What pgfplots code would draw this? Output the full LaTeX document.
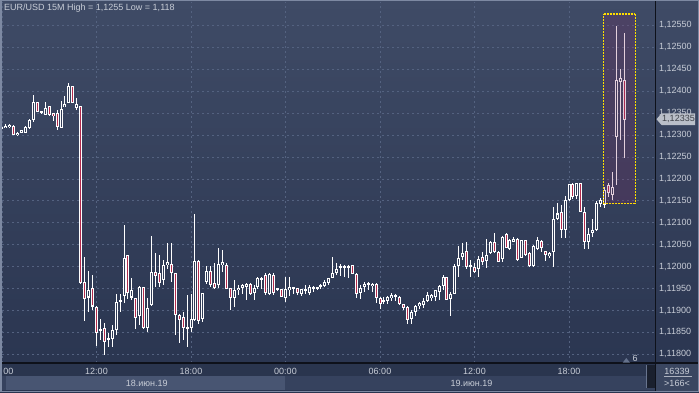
\documentclass[border=0pt]{standalone}
\usepackage{pgfplots}
\pgfplotsset{compat=1.18}
\usepackage{pgfplotstable}
\usepackage{fontspec}
\setmainfont{Liberation Sans}
\definecolor{bgtop}{RGB}{63,75,102}
\definecolor{bgbot}{RGB}{41,52,79}
\definecolor{gridc}{RGB}{84,98,128}
\definecolor{txt}{RGB}{200,205,215}
\definecolor{downc}{RGB}{178,42,76}
\definecolor{upin}{RGB}{50,61,88}
\definecolor{hlc}{RGB}{130,40,100}
\definecolor{hly}{RGB}{255,222,0}
\definecolor{stripa}{RGB}{42,53,78}
\definecolor{stripb}{RGB}{72,85,114}
\definecolor{stripc}{RGB}{54,66,94}
\definecolor{framec}{RGB}{125,137,162}
\definecolor{blk}{RGB}{14,17,26}
\definecolor{boxc}{RGB}{58,70,96}
\definecolor{markc}{RGB}{186,191,201}

\pgfplotstableread{
i o h l c
0 1.12316 1.12323 1.12313 1.12320
1 1.12317 1.12324 1.12316 1.12322
2 1.12319 1.12325 1.12317 1.12324
3 1.12321 1.12322 1.12300 1.12301
4 1.12300 1.12307 1.12299 1.12306
5 1.12306 1.12313 1.12305 1.12311
6 1.12306 1.12321 1.12305 1.12319
7 1.12317 1.12338 1.12313 1.12334
8 1.12336 1.12391 1.12331 1.12376
9 1.12376 1.12377 1.12354 1.12355
10 1.12350 1.12356 1.12349 1.12354
11 1.12346 1.12376 1.12345 1.12363
12 1.12366 1.12368 1.12344 1.12345
13 1.12350 1.12351 1.12334 1.12344
14 1.12350 1.12357 1.12312 1.12319
15 1.12318 1.12378 1.12316 1.12361
16 1.12365 1.12389 1.12364 1.12370
17 1.12373 1.12418 1.12372 1.12412
18 1.12412 1.12413 1.12373 1.12374
19 1.12363 1.12385 1.12357 1.12370
20 1.12366 1.12368 1.11962 1.11964
21 1.11966 1.12023 1.11878 1.11926
22 1.11930 1.11991 1.11897 1.11947
23 1.11951 1.11981 1.11901 1.11909
24 1.11910 1.11911 1.11821 1.11850
25 1.11854 1.11880 1.11833 1.11857
26 1.11860 1.11872 1.11800 1.11829
27 1.11836 1.11849 1.11817 1.11839
28 1.11835 1.11867 1.11817 1.11856
29 1.11856 1.11939 1.11844 1.11920
30 1.11922 1.11939 1.11897 1.11923
31 1.11935 1.12095 1.11917 1.12021
32 1.12027 1.12028 1.11928 1.11939
33 1.11930 1.11976 1.11924 1.11947
34 1.11930 1.11931 1.11860 1.11885
35 1.11888 1.11956 1.11867 1.11954
36 1.11954 1.11955 1.11859 1.11860
37 1.11860 1.11928 1.11852 1.11905
38 1.11913 1.12070 1.11910 1.11990
39 1.11990 1.12031 1.11954 1.11981
40 1.11985 1.12027 1.11954 1.11964
41 1.11971 1.12015 1.11958 1.12006
42 1.12005 1.12055 1.11996 1.12010
43 1.12005 1.12055 1.11966 1.11985
44 1.11985 1.11986 1.11844 1.11890
45 1.11890 1.11891 1.11825 1.11880
46 1.11886 1.11897 1.11834 1.11860
47 1.11860 1.11935 1.11818 1.11861
48 1.11860 1.11939 1.11852 1.11880
49 1.11880 1.12120 1.11878 1.12014
50 1.12014 1.12015 1.11871 1.11877
51 1.11880 1.11940 1.11875 1.11939
52 1.11964 1.12002 1.11962 1.11990
53 1.11990 1.12002 1.11954 1.11960
54 1.11962 1.12008 1.11949 1.11952
55 1.11960 1.12042 1.11951 1.12008
56 1.12005 1.12040 1.11989 1.12010
57 1.12005 1.12009 1.11949 1.11951
58 1.11951 1.11952 1.11901 1.11929
59 1.11929 1.11970 1.11909 1.11947
60 1.11947 1.11958 1.11935 1.11952
61 1.11952 1.11961 1.11939 1.11960
62 1.11954 1.11962 1.11925 1.11960
63 1.11960 1.11962 1.11935 1.11939
64 1.11939 1.11958 1.11924 1.11951
65 1.11954 1.11977 1.11949 1.11975
66 1.11971 1.11977 1.11949 1.11975
67 1.11981 1.11985 1.11935 1.11939
68 1.11939 1.11986 1.11935 1.11983
69 1.11981 1.11985 1.11935 1.11939
70 1.11949 1.11951 1.11945 1.11950
71 1.11949 1.11950 1.11931 1.11932
72 1.11929 1.11977 1.11920 1.11949
73 1.11949 1.11977 1.11935 1.11954
74 1.11951 1.11956 1.11939 1.11954
75 1.11951 1.11952 1.11935 1.11939
76 1.11939 1.11951 1.11935 1.11949
77 1.11945 1.11958 1.11939 1.11949
78 1.11941 1.11958 1.11935 1.11954
79 1.11951 1.11958 1.11943 1.11954
80 1.11951 1.11956 1.11947 1.11954
81 1.11954 1.11962 1.11951 1.11958
82 1.11958 1.11970 1.11954 1.11967
83 1.11964 1.11976 1.11960 1.11975
84 1.11975 1.12023 1.11974 1.11986
85 1.11986 1.12009 1.11981 1.11996
86 1.11996 1.12008 1.11981 1.12000
87 1.11996 1.12006 1.11977 1.12000
88 1.11999 1.12004 1.11975 1.12001
89 1.12004 1.12005 1.11983 1.11985
90 1.11985 1.11986 1.11928 1.11939
91 1.11939 1.11958 1.11928 1.11951
92 1.11954 1.11966 1.11943 1.11960
93 1.11958 1.11966 1.11947 1.11962
94 1.11956 1.11964 1.11943 1.11961
95 1.11962 1.11963 1.11917 1.11930
96 1.11930 1.11932 1.11905 1.11915
97 1.11920 1.11932 1.11915 1.11924
98 1.11922 1.11933 1.11915 1.11932
99 1.11928 1.11939 1.11920 1.11935
100 1.11932 1.11939 1.11922 1.11935
101 1.11932 1.11933 1.11914 1.11915
102 1.11915 1.11916 1.11901 1.11905
103 1.11910 1.11911 1.11871 1.11880
104 1.11880 1.11901 1.11871 1.11897
105 1.11897 1.11915 1.11888 1.11910
106 1.11910 1.11920 1.11903 1.11917
107 1.11913 1.11928 1.11907 1.11922
108 1.11922 1.11943 1.11920 1.11935
109 1.11928 1.11939 1.11922 1.11935
110 1.11932 1.11949 1.11924 1.11947
111 1.11943 1.11958 1.11924 1.11956
112 1.11956 1.11981 1.11947 1.11977
113 1.11977 1.11978 1.11924 1.11926
114 1.11928 1.11943 1.11888 1.11939
115 1.11939 1.12008 1.11938 1.12002
116 1.12002 1.12049 1.11977 1.12021
117 1.12023 1.12055 1.12017 1.12032
118 1.12036 1.12057 1.11996 1.12000
119 1.12000 1.12015 1.11976 1.12004
120 1.12000 1.12008 1.11985 1.11989
121 1.11996 1.12023 1.11976 1.12017
122 1.12023 1.12034 1.12004 1.12011
123 1.12014 1.12065 1.11997 1.12027
124 1.12031 1.12059 1.12030 1.12057
125 1.12057 1.12076 1.12031 1.12034
126 1.12034 1.12036 1.12011 1.12013
127 1.12019 1.12072 1.12011 1.12068
128 1.12076 1.12077 1.12043 1.12044
129 1.12042 1.12065 1.12040 1.12062
130 1.12059 1.12068 1.12057 1.12065
131 1.12065 1.12066 1.12013 1.12015
132 1.12021 1.12063 1.12020 1.12061
133 1.12061 1.12062 1.12024 1.12027
134 1.12032 1.12034 1.11999 1.12002
135 1.12002 1.12049 1.11999 1.12046
136 1.12042 1.12068 1.12038 1.12062
137 1.12059 1.12061 1.12034 1.12042
138 1.12036 1.12038 1.12015 1.12027
139 1.12024 1.12034 1.12020 1.12032
140 1.12034 1.12137 1.12000 1.12110
141 1.12110 1.12145 1.12106 1.12122
142 1.12125 1.12141 1.12065 1.12084
143 1.12084 1.12161 1.12065 1.12152
144 1.12152 1.12190 1.12150 1.12189
145 1.12189 1.12190 1.12154 1.12160
146 1.12160 1.12191 1.12154 1.12190
147 1.12190 1.12191 1.12124 1.12125
148 1.12125 1.12137 1.12040 1.12057
149 1.12057 1.12089 1.12040 1.12076
150 1.12076 1.12110 1.12068 1.12085
151 1.12084 1.12150 1.12083 1.12145
152 1.12143 1.12156 1.12137 1.12152
153 1.12141 1.12182 1.12135 1.12176
154 1.12186 1.12192 1.12160 1.12167
155 1.12163 1.12217 1.12152 1.12181
156 1.12296 1.12550 1.12186 1.12426
157 1.12422 1.12450 1.12289 1.12430
158 1.12426 1.12532 1.12249 1.12335
}\candles

\begin{document}
\begin{tikzpicture}[x=1pt,y=1pt]
\useasboundingbox (0,0) rectangle (699,392);
\shade[top color=bgtop, bottom color=bgbot] (0,0) rectangle (699,392);
% bottom strips
\fill[stripa] (0,16) rectangle (656,29);
\fill[stripc] (0,2) rectangle (656,16);
\fill[stripb] (6,2) rectangle (285,16);
\fill[blk!70!stripc] (645.7,4) rectangle (655,27);
\draw[framec!70!stripc, line width=0.6pt] (646,4) -- (646,27);
% right bottom box
\fill[boxc] (656,0) rectangle (699,29);
\draw[txt!80!boxc, line width=0.6pt] (664,15.3) -- (692,15.3);
\node[font=\fontsize{9}{10}\selectfont, text=txt, inner sep=0pt] at (677,21) {16339};
\node[font=\fontsize{9}{10}\selectfont, text=txt, inner sep=0pt] at (677,9) {>166<};
% dates
\node[font=\fontsize{9}{10}\selectfont, text=txt, inner sep=0pt] at (146.8,9) {18.июн.19};
\node[font=\fontsize{9}{10}\selectfont, text=txt, inner sep=0pt] at (471.5,9) {19.июн.19};

\begin{axis}[at={(2pt,29pt)}, anchor=south west, scale only axis,
  width=653.7pt, height=361pt,
  xmin=0, xmax=166.02, ymin=1.117802, ymax=1.126031,
  axis line style={draw=none}, major tick length=0pt,
  xtick={0,24,48,72,96,120,144},
  xticklabels={\phantom{06:}00,12:00,18:00,00:00,06:00,12:00,18:00},
  ytick={1.118,1.1185,1.119,1.1195,1.12,1.1205,1.121,1.1215,1.122,1.1225,1.123,1.1235,1.124,1.1245,1.125,1.1255},
  yticklabels={{1,11800},{1,11850},{1,11900},{1,11950},{1,12000},{1,12050},{1,12100},{1,12150},{1,12200},{1,12250},{1,12300},{1,12350},{1,12400},{1,12450},{1,12500},{1,12550}},
  yticklabel pos=right,
  grid=major,
  major grid style={gridc, line width=0.6pt, dash pattern=on 2pt off 3pt},
  tick label style={font=\fontsize{9}{10}\selectfont, text=txt},
  xticklabel style={anchor=center, yshift=-8.5pt},
  yticklabel style={anchor=west, inner sep=0pt, xshift=3.3pt},
  unbounded coords=discard,
]
% wicks
\addplot[draw=none, mark=none, forget plot,
  error bars/.cd, y dir=both, y explicit, error mark=none,
  error bar style={white, line width=1pt, line cap=butt}]
  table[x=i, y expr={(\thisrow{h}+\thisrow{l})/2}, y error expr={(\thisrow{h}-\thisrow{l})/2}] {\candles};
% bodies (outline)
\addplot[draw=none, mark=none, forget plot,
  error bars/.cd, y dir=both, y explicit, error mark=none,
  error bar style={white, line width=3pt, line cap=butt}]
  table[x=i, y expr={(\thisrow{o}+\thisrow{c})/2}, y error expr={max(abs(\thisrow{o}-\thisrow{c})/2,0.000023)}] {\candles};
% up interiors
\addplot[draw=none, mark=none, forget plot,
  error bars/.cd, y dir=both, y explicit, error mark=none,
  error bar style={upin, line width=1pt, line cap=butt}]
  table[x=i, y expr={\thisrow{c}<\thisrow{o} ? nan : (\thisrow{o}+\thisrow{c})/2}, y error expr={max(abs(\thisrow{o}-\thisrow{c})/2-0.0000228,0)}] {\candles};
% down interiors
\addplot[draw=none, mark=none, forget plot,
  error bars/.cd, y dir=both, y explicit, error mark=none,
  error bar style={downc, line width=1pt, line cap=butt}]
  table[x=i, y expr={\thisrow{c}<\thisrow{o} ? (\thisrow{o}+\thisrow{c})/2 : nan}, y error expr={max(abs(\thisrow{o}-\thisrow{c})/2-0.0000228,0)}] {\candles};
\coordinate (hlA) at (axis cs:152.8,1.12143);
\coordinate (hlB) at (axis cs:160.8,1.12576);
\end{axis}

% highlight box: translucent fill, then each dashed edge separately
\begin{scope}
\fill[hlc, fill opacity=0.22] (hlA) rectangle (hlB);
\end{scope}
\draw[color=hly, line width=1.3pt, dash pattern=on 2pt off 1pt] (hlA) -- (hlA |- hlB);
\draw[color=hly, line width=1.3pt, dash pattern=on 2pt off 1pt] (hlA |- hlB) -- (hlB);
\draw[color=hly, line width=1.3pt, dash pattern=on 2pt off 1pt] (hlB) -- (hlB |- hlA);
\draw[color=hly, line width=1.3pt, dash pattern=on 2pt off 1pt] (hlB |- hlA) -- (hlA);
% title
\node[anchor=west, font=\fontsize{9}{10}\selectfont, text=txt, inner sep=0pt] at (4,383.7) {EUR/USD 15M High = 1,1255 Low = 1,118};
% separators
\draw[blk, line width=1.2pt] (0,29) -- (699,29);
\draw[blk, line width=1pt] (655.7,0) -- (655.7,392);
% price marker
\fill[markc] (656.5,272.8) -- (661.5,278.7) -- (695,278.7) -- (695,267) -- (661.5,267) -- cycle;
\node[font=\fontsize{9}{10}\selectfont, text=blk!80!white, inner sep=0pt] at (678.5,272.8) {1,12335};
% "6" marker
\fill[gridc!90!white] (622.7,29.3) -- (630,29.3) -- (626.3,34) -- cycle;
\node[font=\fontsize{9}{10}\selectfont, text=txt, inner sep=0pt] at (635.2,34) {6};
% frame
\draw[framec, line width=1.5pt] (0.75,0.75) rectangle (698.25,391.25);
\end{tikzpicture}
\end{document}
